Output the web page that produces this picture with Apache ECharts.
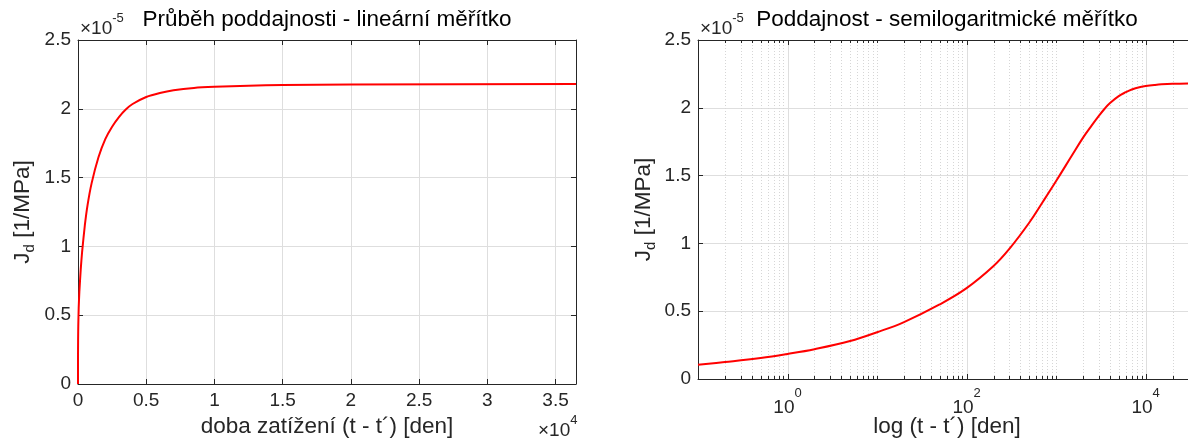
<!DOCTYPE html>
<html>
<head>
<meta charset="utf-8">
<script src="https://cdn.jsdelivr.net/npm/echarts@6/dist/echarts.min.js"></script>
<style>
  html, body { margin: 0; padding: 0; background: #ffffff; }
  #chart { width: 1188px; height: 440px; }
</style>
</head>
<body>
<div id="chart"></div>
<script>
// Load duration (t - t') in days
const loadDays = [0, 0.1, 0.2, 0.5, 1, 2, 5, 10, 20, 50, 100, 200, 300, 500, 700, 1000,
  1500, 2000, 2500, 3000, 3500, 4000, 5000, 6000, 7000, 8500, 10000, 12500, 15000, 20000, 36500];
// Delayed compliance J_d, in units of 1e-5 1/MPa
const complianceE5 = [0, 0.105, 0.125, 0.155, 0.185, 0.22, 0.28, 0.345, 0.42, 0.55, 0.67, 0.833, 0.959, 1.152, 1.30, 1.46,
  1.648, 1.78, 1.87, 1.94, 1.995, 2.035, 2.086, 2.115, 2.135, 2.152, 2.16, 2.168, 2.173, 2.177, 2.18];

// Axis ranges and tick labels
const linX = { min: 0, max: 36500, step: 5000, scale: 1e4 };
const logX = { min: 0.1, max: 36500 };
const yRange = { min: 0, max: 2.5, step: 0.5 };
const logLabelExponents = [0, 2, 4];

const titles = ['Průběh poddajnosti - lineární měřítko', 'Poddajnost - semilogaritmické měřítko'];
const xNames = ['doba zatížení (t - t´) [den]', 'log (t - t´) [den]'];

const FONT = "'Liberation Sans', Arial, Helvetica, sans-serif";
const AX = '#262626';
const GRID = '#dedede';
const MINOR = '#d6d6d6';
const TICK_FS = 19;
const NAME_FS = 22.5;

const linSeries = loadDays.map((t, i) => [t, complianceE5[i]]);
const logSeries = linSeries.filter(p => p[0] > 0);

// Decade / sub-decade ticks of the log axis: [value, 0, major]
const logTicks = [];
for (let e = -1; e <= 4; e++) {
  for (let k = 1; k <= 9; k++) {
    const v = +(k * Math.pow(10, e)).toPrecision(3);
    if (v > logX.max) break;
    logTicks.push([v, 0, (k === 1 && logLabelExponents.indexOf(e) >= 0) ? 1 : 0]);
  }
}

function crisp(x) { return Math.round(x) + 0.5; }

function renderLogGrid(params, api) {
  const v = api.value(0);
  const major = api.value(2);
  const p0 = api.coord([v, yRange.min]);
  const p1 = api.coord([v, yRange.max]);
  const x = crisp(p0[0]);
  const len = major ? 5 : 3;
  const children = [];
  if (v > logX.min * 1.001) {
    children.push({
      type: 'line',
      shape: { x1: x, y1: p0[1], x2: x, y2: p1[1] },
      style: { stroke: major ? GRID : MINOR, lineWidth: 1, lineDash: major ? null : [1, 2] }
    });
  }
  children.push({ type: 'line', shape: { x1: x, y1: p0[1], x2: x, y2: p0[1] - len }, style: { stroke: AX, lineWidth: 1 } });
  children.push({ type: 'line', shape: { x1: x, y1: p1[1], x2: x, y2: p1[1] + len }, style: { stroke: AX, lineWidth: 1 } });
  return { type: 'group', children: children };
}

const tickLabel = { color: AX, fontSize: TICK_FS, fontFamily: FONT };
const axisLine = { show: true, onZero: false, lineStyle: { color: AX, width: 1 } };
const tickIn = { show: true, inside: true, length: 5, lineStyle: { color: AX, width: 1 } };

function yLabel(v) { return String(+v.toFixed(2)); }

const yName = '{j|J}{d|d}{j| [1/MPa]}';
const yNameStyle = {
  rich: {
    j: { fontSize: NAME_FS, fontFamily: FONT, color: AX, lineHeight: 26, verticalAlign: 'top' },
    d: { fontSize: 15, fontFamily: FONT, color: AX, lineHeight: 14, verticalAlign: 'bottom' }
  }
};

function yAxes(gridIndex, gap) {
  return [
    {
      type: 'value', gridIndex: gridIndex, position: 'left',
      min: yRange.min, max: yRange.max, interval: yRange.step,
      axisLine: axisLine, axisTick: tickIn,
      axisLabel: Object.assign({ formatter: yLabel, margin: 7 }, tickLabel),
      splitLine: { show: true, lineStyle: { color: GRID, width: 1 } },
      name: yName, nameLocation: 'middle', nameRotate: 90, nameGap: gap,
      nameMoveOverlap: false,
      nameTextStyle: yNameStyle
    },
    {
      type: 'value', gridIndex: gridIndex, position: 'right',
      min: yRange.min, max: yRange.max, interval: yRange.step,
      axisLine: axisLine, axisTick: tickIn, axisLabel: { show: false }, splitLine: { show: false }
    }
  ];
}

function exponentText(x, y, power) {
  return {
    type: 'text', x: x, y: y,
    style: {
      text: '{a|×10}{b|' + power + '}',
      rich: {
        a: { fontSize: TICK_FS, fontFamily: FONT, fill: AX, lineHeight: 26, verticalAlign: 'bottom' },
        b: { fontSize: 13, fontFamily: FONT, fill: AX, lineHeight: 14, verticalAlign: 'top' }
      }
    }
  };
}

const option = {
  backgroundColor: '#ffffff',
  animation: false,
  grid: [
    { left: 78, top: 40, width: 498, height: 344, outerBoundsMode: 'none', containLabel: false },
    { left: 698, top: 40, width: 498, height: 339, outerBoundsMode: 'none', containLabel: false }
  ],
  xAxis: [
    {
      type: 'value', gridIndex: 0, position: 'bottom',
      min: linX.min, max: linX.max, interval: linX.step,
      axisLine: axisLine, axisTick: tickIn,
      axisLabel: Object.assign({
        margin: 7, showMaxLabel: false,
        formatter: v => (v % linX.step === 0 ? String(v / linX.scale) : '')
      }, tickLabel),
      splitLine: { show: true, lineStyle: { color: GRID, width: 1 } },
      name: xNames[0], nameLocation: 'middle', nameGap: 31, nameMoveOverlap: false,
      nameTextStyle: { fontSize: NAME_FS, fontFamily: FONT, color: AX }
    },
    {
      type: 'value', gridIndex: 0, position: 'top',
      min: linX.min, max: linX.max, interval: linX.step,
      axisLine: axisLine, axisTick: tickIn, axisLabel: { show: false }, splitLine: { show: false }
    },
    {
      type: 'log', logBase: 10, gridIndex: 1, position: 'bottom',
      min: logX.min, max: logX.max,
      axisLine: axisLine, axisTick: { show: false },
      axisLabel: {
        margin: 8,
        formatter: function (v) {
          const e = Math.round(Math.log10(v));
          if (Math.abs(Math.log10(v) - e) > 1e-6 || logLabelExponents.indexOf(e) < 0) return '';
          return '{b|10}{s|' + e + '}';
        },
        rich: {
          b: { fontSize: TICK_FS, fontFamily: FONT, color: AX, lineHeight: 30, verticalAlign: 'bottom' },
          s: { fontSize: 13, fontFamily: FONT, color: AX, lineHeight: 14, verticalAlign: 'top' }
        }
      },
      splitLine: { show: false },
      name: xNames[1], nameLocation: 'middle', nameGap: 36, nameMoveOverlap: false,
      nameTextStyle: { fontSize: NAME_FS, fontFamily: FONT, color: AX }
    },
    {
      type: 'log', logBase: 10, gridIndex: 1, position: 'top',
      min: logX.min, max: logX.max,
      axisLine: axisLine, axisTick: { show: false }, axisLabel: { show: false }, splitLine: { show: false }
    }
  ],
  yAxis: yAxes(0, 41).concat(yAxes(1, 40)),
  graphic: [
    { type: 'text', x: 327, y: 20, style: { text: titles[0], fontSize: NAME_FS, fontFamily: FONT, fill: '#000', align: 'center', verticalAlign: 'middle' } },
    { type: 'text', x: 947, y: 20, style: { text: titles[1], fontSize: NAME_FS, fontFamily: FONT, fill: '#000', align: 'center', verticalAlign: 'middle' } },
    exponentText(80, 12, '-5'),
    exponentText(700, 12, '-5'),
    exponentText(538, 414, '4')
  ],
  series: [
    {
      type: 'custom', xAxisIndex: 2, yAxisIndex: 2, z: 1, silent: true,
      renderItem: renderLogGrid, data: logTicks, encode: { x: 0, y: 1 }
    },
    {
      type: 'line', xAxisIndex: 0, yAxisIndex: 0, z: 5, data: linSeries,
      showSymbol: false, smooth: 0.2,
      lineStyle: { color: '#ff0000', width: 2 }
    },
    {
      type: 'line', xAxisIndex: 2, yAxisIndex: 2, z: 5, data: logSeries,
      showSymbol: false, smooth: 0.4,
      lineStyle: { color: '#ff0000', width: 2 }
    }
  ]
};

const chart = echarts.init(document.getElementById('chart'));
chart.setOption(option);
</script>
</body>
</html>
